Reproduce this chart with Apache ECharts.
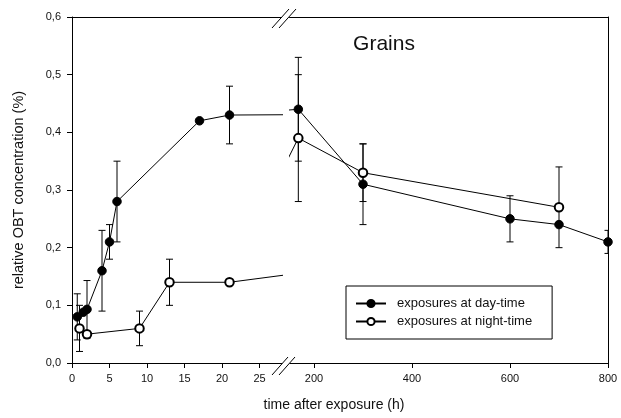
<!DOCTYPE html>
<html>
<head>
<meta charset="utf-8">
<script src="https://cdn.jsdelivr.net/npm/echarts@6/dist/echarts.min.js"></script>
<style>html,body{margin:0;padding:0;background:#fff}#c{width:621px;height:418px}</style>
</head>
<body>
<div id="c"></div>
<script>
// ---- data ----
const dayTime   = [0.7, 1.5, 2, 4, 5, 6, 17, 21, 168, 300, 600, 700, 800];
const dayValue  = [0.08, 0.088, 0.093, 0.16, 0.21, 0.28, 0.42, 0.43, 0.44, 0.31, 0.25, 0.24, 0.21];
const dayError  = [0.04, 0, 0.05, 0.07, 0.03, 0.07, 0, 0.05, 0.09, 0.07, 0.04, 0, 0.02];
const nightTime  = [1, 2, 9, 13, 21, 168, 300, 700];
const nightValue = [0.06, 0.05, 0.06, 0.14, 0.14, 0.39, 0.33, 0.27];
const nightError = [0.04, 0, 0.03, 0.04, 0, 0.11, 0.05, 0.07];
const leftTicks  = [0, 5, 10, 15, 20, 25];
const rightTicks = [200, 400, 600, 800];
const yTicksMax = 0.6;
const dayName = 'exposures at day-time';
const nightName = 'exposures at night-time';
const LEFT_MAX = 28, RIGHT_MIN = 150, RIGHT_MAX = 800;

function pts(t, v, e) { return t.map((x, i) => [x, v[i], e[i]]); }
// left part: points before break plus the first point after (line is clipped)
function leftPart(p) {
  const out = p.filter(d => d[0] <= LEFT_MAX);
  const nxt = p.find(d => d[0] > LEFT_MAX);
  if (nxt) out.push(nxt);
  return out;
}
function rightPart(p) {
  const before = p.filter(d => d[0] <= LEFT_MAX);
  const out = p.filter(d => d[0] >= RIGHT_MIN);
  if (before.length) out.unshift(before[before.length - 1]);
  return out;
}
const dayPts = pts(dayTime, dayValue, dayError);
const nightPts = pts(nightTime, nightValue, nightError);

const font = 'Liberation Sans, Arial, sans-serif';
const ink = '#111';

function errRender(params, api) {
  const x = api.value(0), y = api.value(1), e = api.value(2);
  if (!e) return null;
  const top = api.coord([x, y + e]);
  const bot = api.coord([x, y - e]);
  const w = 3.5;
  const st = { stroke: '#000', lineWidth: 1 };
  return {
    type: 'group',
    children: [
      { type: 'line', shape: { x1: top[0], y1: top[1], x2: bot[0], y2: bot[1] }, style: st },
      { type: 'line', shape: { x1: top[0] - w, y1: top[1], x2: top[0] + w, y2: top[1] }, style: st },
      { type: 'line', shape: { x1: bot[0] - w, y1: bot[1], x2: bot[0] + w, y2: bot[1] }, style: st }
    ]
  };
}

const axisLineStyle = { show: true, lineStyle: { color: '#000', width: 1 } };

function lineSeries(name, data, gi, open) {
  return {
    type: 'line', name: name, xAxisIndex: gi, yAxisIndex: gi,
    data: data.map(d => [d[0], d[1]]),
    clip: true, z: 5,
    symbol: open ? 'emptyCircle' : 'circle', symbolSize: 8.5,
    showSymbol: true, showAllSymbol: true,
    lineStyle: { color: '#000', width: 1 },
    itemStyle: { color: '#000', borderColor: '#000', borderWidth: 1 },
    emphasis: { disabled: true }
  };
}
function errSeries(data, gi, lim) {
  return {
    type: 'custom', xAxisIndex: gi, yAxisIndex: gi, z: 3,
    data: data.filter(lim).map(d => [d[0], d[1], d[2]]),
    renderItem: errRender, clip: true, silent: true
  };
}

const chart = echarts.init(document.getElementById('c'), null, { renderer: 'canvas' });
const option = {
  animation: false,
  backgroundColor: '#fff',
  textStyle: { fontFamily: font },
  grid: [
    { left: 72, top: 17, width: 210, height: 346 },
    { left: 289.5, top: 17, width: 318.5, height: 346 }
  ],
  xAxis: [
    { gridIndex: 0, type: 'value', min: 0, max: LEFT_MAX, position: 'bottom',
      axisLine: axisLineStyle, splitLine: { show: false },
      axisTick: { show: true, length: 5, customValues: leftTicks, lineStyle: { color: '#000' } },
      axisLabel: { customValues: leftTicks, margin: 10, fontSize: 11, color: ink, fontFamily: font } },
    { gridIndex: 1, type: 'value', min: RIGHT_MIN, max: RIGHT_MAX, position: 'bottom',
      axisLine: axisLineStyle, splitLine: { show: false },
      axisTick: { show: true, length: 5, customValues: rightTicks, lineStyle: { color: '#000' } },
      axisLabel: { customValues: rightTicks, margin: 10, fontSize: 11, color: ink, fontFamily: font } },
    { gridIndex: 0, type: 'value', min: 0, max: LEFT_MAX, position: 'top',
      axisLine: axisLineStyle, axisTick: { show: false }, axisLabel: { show: false }, splitLine: { show: false } },
    { gridIndex: 1, type: 'value', min: RIGHT_MIN, max: RIGHT_MAX, position: 'top',
      axisLine: axisLineStyle, axisTick: { show: false }, axisLabel: { show: false }, splitLine: { show: false } }
  ],
  yAxis: [
    { gridIndex: 0, type: 'value', min: 0, max: yTicksMax, interval: 0.1, position: 'left',
      axisLine: axisLineStyle, splitLine: { show: false },
      axisTick: { show: true, length: 5, lineStyle: { color: '#000' } },
      axisLabel: { margin: 11, fontSize: 11, color: ink, fontFamily: font,
        formatter: v => v.toFixed(1).replace('.', ',') },
      name: 'relative OBT concentration (%)', nameLocation: 'middle', nameGap: 46, nameRotate: 90,
      nameTextStyle: { fontSize: 14.5, color: ink, fontFamily: font } },
    { gridIndex: 1, type: 'value', min: 0, max: yTicksMax, interval: 0.1, position: 'right',
      axisLine: axisLineStyle, axisTick: { show: false }, axisLabel: { show: false }, splitLine: { show: false } }
  ],
  legend: {
    left: 346, top: 286, orient: 'vertical',
    data: [dayName, nightName],
    itemWidth: 30, itemHeight: 9, itemGap: 5,
    padding: [11, 20, 11, 9],
    borderColor: '#000', borderWidth: 1, backgroundColor: '#fff',
    textStyle: { fontSize: 13, color: ink, fontFamily: font, padding: [0, 0, 0, 6] },
    selectedMode: false
  },
  graphic: [
    { type: 'text', x: 384, y: 44, style: { text: 'Grains', fontSize: 21, fontFamily: font, fill: ink, align: 'center', verticalAlign: 'middle' } },
    { type: 'text', x: 334, y: 405, style: { text: 'time after exposure (h)', fontSize: 14, fontFamily: font, fill: ink, align: 'center', verticalAlign: 'middle' } },
    // axis-break marks (bottom)
    { type: 'polygon', shape: { points: [[273, 375], [280, 375], [295, 357], [288, 357]] }, style: { fill: '#fff' }, z: 20 },
    { type: 'line', shape: { x1: 272, y1: 375, x2: 288, y2: 357 }, style: { stroke: '#000', lineWidth: 1 }, z: 21 },
    { type: 'line', shape: { x1: 279, y1: 375, x2: 295, y2: 357 }, style: { stroke: '#000', lineWidth: 1 }, z: 21 },
    // axis-break marks (top)
    { type: 'polygon', shape: { points: [[273, 28], [280, 28], [296, 9], [289, 9]] }, style: { fill: '#fff' }, z: 20 },
    { type: 'line', shape: { x1: 272, y1: 28, x2: 289, y2: 9 }, style: { stroke: '#000', lineWidth: 1 }, z: 21 },
    { type: 'line', shape: { x1: 279, y1: 28, x2: 296, y2: 9 }, style: { stroke: '#000', lineWidth: 1 }, z: 21 }
  ],
  series: [
    errSeries(dayPts, 0, d => d[0] <= LEFT_MAX),
    errSeries(nightPts, 0, d => d[0] <= LEFT_MAX),
    errSeries(dayPts, 1, d => d[0] >= RIGHT_MIN),
    errSeries(nightPts, 1, d => d[0] >= RIGHT_MIN),
    lineSeries(dayName, leftPart(dayPts), 0, false),
    lineSeries(nightName, leftPart(nightPts), 0, true),
    lineSeries(dayName, rightPart(dayPts), 1, false),
    lineSeries(nightName, rightPart(nightPts), 1, true)
  ]
};
chart.setOption(option);
</script>
</body>
</html>
